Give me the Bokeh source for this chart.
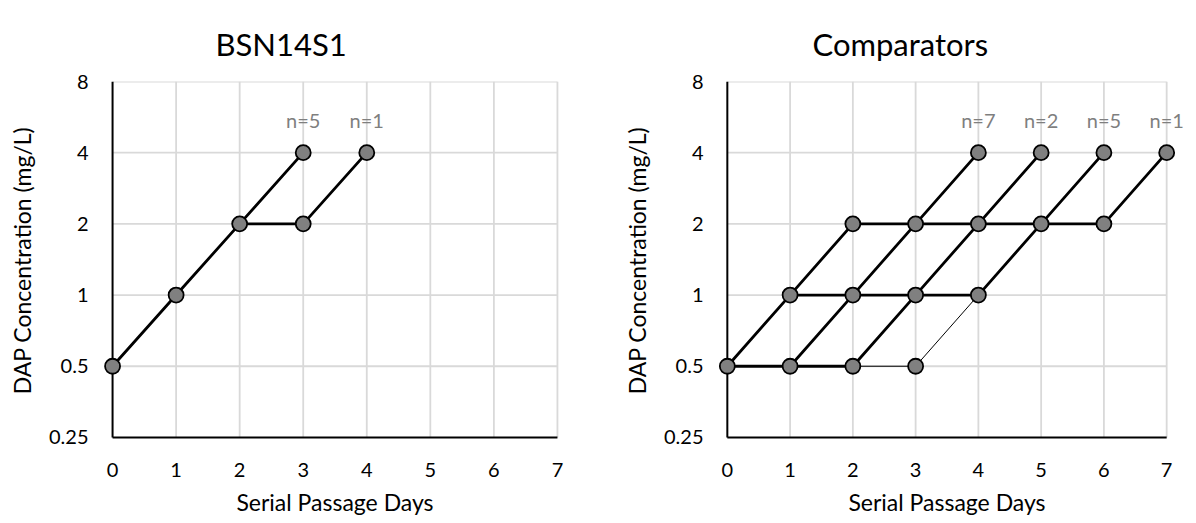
from bokeh.plotting import figure
from bokeh.models import Range1d, FixedTicker, ColumnDataSource, LabelSet
from bokeh.layouts import row
from bokeh.embed import file_html
from bokeh.resources import INLINE
from bokeh.core.properties import value

# ---------------- data ----------------
day_ticks = [0, 1, 2, 3, 4, 5, 6, 7]
conc_ticks = [0.25, 0.5, 1, 2, 4, 8]
conc_labels = ["0.25", "0.5", "1", "2", "4", "8"]

# BSN14S1 panel
bsn_paths_x = [[0, 1, 2, 3], [2, 3, 4]]
bsn_paths_y = [[0.5, 1, 2, 4], [2, 2, 4]]
bsn_thin_x = []
bsn_thin_y = []
bsn_n_day = [3, 4]
bsn_n_text = ["n=5", "n=1"]

# Comparators panel
comp_paths_x = [[0, 1, 2, 3, 4, 5, 6, 7], [0, 1, 2], [1, 2, 3, 4], [2, 3, 4, 5], [1, 2, 3, 4, 5, 6]]
comp_paths_y = [[0.5, 1, 2, 2, 2, 2, 2, 4], [0.5, 0.5, 0.5], [0.5, 1, 2, 4], [0.5, 1, 2, 4], [1, 1, 1, 1, 2, 4]]
comp_thin_x = [[2, 3, 4]]
comp_thin_y = [[0.5, 0.5, 1]]
comp_n_day = [4, 5, 6, 7]
comp_n_text = ["n=7", "n=2", "n=5", "n=1"]

n_label_level = 5.5

FONT = "Lato"


def make_panel(title, px, py, tx, ty, n_day, n_text, border_left, border_right,
               frame_w, title_offset):
    p = figure(frame_width=frame_w, frame_height=358,
               x_range=Range1d(-0.3, 7.3), y_range=Range1d(0.245, 8.0),
               y_axis_type="log", output_backend="svg", toolbar_location=None,
               min_border_left=border_left, min_border_right=border_right,
               min_border_top=81, min_border_bottom=81)
    p.outline_line_color = None
    p.xgrid.visible = False
    p.ygrid.visible = False

    # grid lines (between axis ends)
    hy = conc_ticks[1:]
    p.segment(x0=[day_ticks[0]] * len(hy), x1=[day_ticks[-1]] * len(hy), y0=hy, y1=hy,
              line_color="#d9d9d9", line_width=1.8)
    vx = day_ticks[1:]
    p.segment(x0=vx, x1=vx, y0=[conc_ticks[0]] * len(vx), y1=[conc_ticks[-1]] * len(vx),
              line_color="#d9d9d9", line_width=1.8)
    # axis lines
    p.segment(x0=[day_ticks[0], day_ticks[0]], x1=[day_ticks[0], day_ticks[-1]],
              y0=[conc_ticks[0], conc_ticks[0]], y1=[conc_ticks[-1], conc_ticks[0]],
              line_color="black", line_width=2)

    # series lines
    if tx:
        p.multi_line(xs=tx, ys=ty, line_color="black", line_width=1)
    p.multi_line(xs=px, ys=py, line_color="black", line_width=2.8)

    # markers
    pts = set()
    for xs, ys in zip(px + tx, py + ty):
        for a, b in zip(xs, ys):
            pts.add((a, b))
    pts = sorted(pts)
    p.scatter(x=[a for a, b in pts], y=[b for a, b in pts], size=15,
              fill_color="#808080", line_color="black", line_width=1.8)

    src = ColumnDataSource(dict(x=n_day, y=[n_label_level] * len(n_day), t=n_text))
    p.add_layout(LabelSet(x="x", y="y", text="t", source=src, text_align="center",
                          text_baseline="middle", text_color="#7f7f7f",
                          text_font=value(FONT), text_font_size="20px"))

    # axes
    for ax in (p.xaxis[0], p.yaxis[0]):
        ax.axis_line_color = None
        ax.major_tick_line_color = None
        ax.minor_tick_line_color = None
        ax.major_tick_out = 0
        ax.major_tick_in = 0
        ax.minor_tick_out = 0
        ax.major_label_text_font = FONT
        ax.major_label_text_font_size = "20px"
        ax.major_label_text_color = "#000000"
        ax.axis_label_text_font = FONT
        ax.axis_label_text_font_size = "23px"
        ax.axis_label_text_font_style = "normal"
        ax.axis_label_text_color = "#000000"
    p.xaxis.ticker = FixedTicker(ticks=day_ticks)
    p.yaxis.ticker = FixedTicker(ticks=conc_ticks)
    p.yaxis.major_label_overrides = {t: l for t, l in zip(conc_ticks, conc_labels)}
    p.xaxis.axis_label = "Serial Passage Days"
    p.yaxis.axis_label = "DAP Concentration (mg/L)"
    p.xaxis.major_label_standoff = 23
    p.xaxis.axis_label_standoff = 8
    p.yaxis.major_label_standoff = 5
    p.yaxis.axis_label_standoff = 10

    p.title.text = title
    p.title.align = "left"
    p.title.offset = title_offset
    p.title.text_font = FONT
    p.title.text_font_size = "31px"
    p.title.text_font_style = "normal"
    p.title.text_color = "#000000"
    p.title.standoff = 38
    return p


p1 = make_panel("BSN14S1", bsn_paths_x, bsn_paths_y, bsn_thin_x, bsn_thin_y,
                bsn_n_day, bsn_n_text, 93, 24, 483, 122)
p2 = make_panel("Comparators", comp_paths_x, comp_paths_y, comp_thin_x, comp_thin_y,
                comp_n_day, comp_n_text, 108, 9, 477, 104)

layout = row(p1, p2)
open("out.html", "w").write(file_html(layout, INLINE))
